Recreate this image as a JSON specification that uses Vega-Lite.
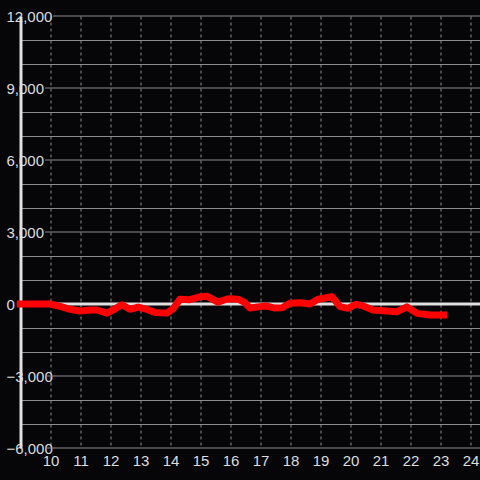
{
  "$schema": "https://vega.github.io/schema/vega-lite/v6.json",
  "width": 460,
  "height": 432,
  "autosize": {"type": "none"},
  "padding": {"left": 20.5, "top": 16, "right": 0, "bottom": 32},
  "background": "#060608",
  "config": {
    "view": {"stroke": null},
    "axis": {"labelFont": "Liberation Sans", "labelFontSize": 15, "labelColor": "#dddddd", "labelOverlap": false, "labelFlush": false}
  },
  "resolve": {"axis": {"x": "independent", "y": "independent"}},
  "datasets": {
    "series": [
      {"hour": 8.88, "value": 0},
      {"hour": 9.48, "value": 0},
      {"hour": 9.98, "value": 0},
      {"hour": 10.32, "value": -100},
      {"hour": 10.65, "value": -220},
      {"hour": 10.98, "value": -290},
      {"hour": 11.32, "value": -250},
      {"hour": 11.55, "value": -250},
      {"hour": 11.88, "value": -380},
      {"hour": 12.15, "value": -200},
      {"hour": 12.38, "value": -30},
      {"hour": 12.65, "value": -220},
      {"hour": 12.92, "value": -130},
      {"hour": 13.15, "value": -200},
      {"hour": 13.48, "value": -350},
      {"hour": 13.88, "value": -380},
      {"hour": 14.08, "value": -200},
      {"hour": 14.32, "value": 200},
      {"hour": 14.65, "value": 180},
      {"hour": 14.98, "value": 300},
      {"hour": 15.22, "value": 320},
      {"hour": 15.58, "value": 80},
      {"hour": 15.92, "value": 220},
      {"hour": 16.25, "value": 200},
      {"hour": 16.45, "value": 80},
      {"hour": 16.65, "value": -170},
      {"hour": 16.98, "value": -110},
      {"hour": 17.18, "value": -80},
      {"hour": 17.48, "value": -170},
      {"hour": 17.72, "value": -160},
      {"hour": 17.98, "value": 30},
      {"hour": 18.32, "value": 50},
      {"hour": 18.65, "value": 0},
      {"hour": 18.92, "value": 200},
      {"hour": 19.38, "value": 300},
      {"hour": 19.65, "value": -110},
      {"hour": 19.92, "value": -180},
      {"hour": 20.18, "value": -10},
      {"hour": 20.42, "value": -80},
      {"hour": 20.75, "value": -250},
      {"hour": 21.22, "value": -290},
      {"hour": 21.55, "value": -320},
      {"hour": 21.88, "value": -120},
      {"hour": 22.22, "value": -390},
      {"hour": 22.65, "value": -460},
      {"hour": 23.22, "value": -460}
    ],
    "levels": [
      {"value": 9000},
      {"value": 6000},
      {"value": 3000},
      {"value": -3000},
      {"value": -6000}
    ]
  },
  "layer": [
    {
      "data": {"name": "series"},
      "mark": {"type": "line", "opacity": 0},
      "encoding": {
        "x": {
          "field": "hour",
          "type": "quantitative",
          "title": null,
          "scale": {"domain": [9, 24.333], "nice": false, "zero": false},
          "axis": {
            "values": [10, 11, 12, 13, 14, 15, 16, 17, 18, 19, 20, 21, 22, 23, 24],
            "grid": true,
            "gridColor": "#8c8c8c",
            "gridDash": [3, 3],
            "gridWidth": 1,
            "domain": false,
            "ticks": false,
            "tickSize": 0,
            "labelPadding": 5,
            "labelFontSize": 15,
            "labelFont": "Liberation Sans",
            "labelColor": "#dddddd"
          }
        },
        "y": {
          "field": "value",
          "type": "quantitative",
          "title": null,
          "scale": {"domain": [-6000, 12000], "nice": false, "zero": false},
          "axis": {
            "values": [-6000, -5000, -4000, -3000, -2000, -1000, 0, 1000, 2000, 3000, 4000, 5000, 6000, 7000, 8000, 9000, 10000, 11000, 12000],
            "labelExpr": "datum.value % 3000 === 0 ? format(datum.value, ',') : ''",
            "grid": true,
            "gridColor": "#8c8c8c",
            "gridWidth": 1,
            "gridOpacity": {"condition": {"test": "datum.value % 3000 === 0", "value": 0}, "value": 1},
            "domain": true,
            "domainColor": "#e0e0e0",
            "domainWidth": 3,
            "ticks": false,
            "tickSize": 0,
            "labelFontSize": 15,
            "labelFont": "Liberation Sans",
            "labelColor": "#dddddd",
            "labelAlign": "left",
            "labelBaseline": "middle",
            "labelPadding": 14.5
          }
        }
      }
    },
    {
      "data": {"name": "levels"},
      "mark": {"type": "rule", "color": "#8c8c8c", "strokeWidth": 1},
      "encoding": {
        "y": {"field": "value", "type": "quantitative", "axis": null},
        "x": {"datum": 9.82, "type": "quantitative", "axis": null},
        "x2": {"datum": 24.333}
      }
    },
    {
      "data": {"values": [{}]},
      "mark": {"type": "rule", "color": "#8c8c8c", "strokeWidth": 1},
      "encoding": {
        "y": {"datum": 12000, "type": "quantitative", "axis": null},
        "x": {"datum": 10.08, "type": "quantitative", "axis": null},
        "x2": {"datum": 24.333}
      }
    },
    {
      "data": {"values": [{}]},
      "mark": {"type": "rule", "color": "#e0e0e0", "strokeWidth": 3},
      "encoding": {
        "y": {"datum": 0, "type": "quantitative", "axis": null},
        "x": {"datum": 8.88, "type": "quantitative", "axis": null},
        "x2": {"datum": 24.333}
      }
    },
    {
      "data": {"name": "series"},
      "mark": {"type": "line", "color": "#ff0000", "strokeWidth": 7, "strokeCap": "butt", "strokeJoin": "round"},
      "encoding": {
        "x": {"field": "hour", "type": "quantitative", "axis": null},
        "y": {"field": "value", "type": "quantitative", "axis": null}
      }
    }
  ]
}
